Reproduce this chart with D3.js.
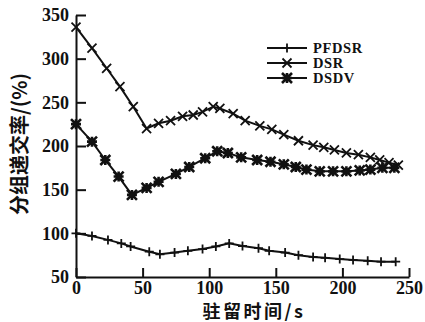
<!DOCTYPE html>
<html>
<head>
<meta charset="utf-8">
<title>分组递交率</title>
<script src="https://d3js.org/d3.v7.min.js"></script>
<style>
  body { margin: 0; background: #fff; }
  svg { display: block; }
  .tick text { font-family: "Liberation Serif", serif; font-weight: bold; font-size: 18px; fill: #111; }
  .tick line, .domain { stroke: #111; stroke-width: 2px; }
</style>
</head>
<body>
<svg width="425" height="322"></svg>
<script>
// data
var seriesNames = ["PFDSR", "DSR", "DSDV"];

var pfdsrX = [0, 12, 24, 34, 41, 55, 63, 74, 84, 95, 105, 115, 125, 137, 145, 157, 167, 178, 187, 198, 208, 219, 229, 240];
var pfdsrY = [100, 97, 92.5, 88.5, 85, 79, 76, 78, 80, 82, 85, 88.5, 85.5, 83, 80, 78, 75, 73, 72, 70.5, 69.5, 68.5, 67.5, 67.5];

var dsrX = [0, 12, 23, 33, 43, 53, 62, 71, 80, 88, 95, 103, 108, 118, 127, 138, 147, 156, 167, 178, 186, 194, 203, 212, 221, 228, 235, 242];
var dsrY = [336, 312, 289, 268, 245, 220, 226, 229, 234, 235.5, 239, 245, 243, 237, 229, 223, 219, 213, 206, 201, 198.5, 195.5, 192, 190, 187, 184, 181, 178];

var dsdvX = [0, 12, 22, 32, 42, 53, 62, 75, 85, 97, 106, 114, 124, 136, 146, 156, 165, 173, 183, 193, 203, 213, 221, 230, 239];
var dsdvY = [225, 205, 184, 165, 144, 152, 159, 168, 176, 186, 194, 192, 187, 184, 182, 179, 176, 173, 171, 171, 171, 172, 173, 175, 175];

var xTicks = [0, 50, 100, 150, 200, 250];
var yTicks = [50, 100, 150, 200, 250, 300, 350];

var xLabel = "驻留时间/s";
var yLabel = "分组递交率/(%)";

var svg = d3.select("svg");

var x = d3.scaleLinear().domain([0, 250]).range([76, 409]);
var y = d3.scaleLinear().domain([50, 350]).range([277, 15]);

//----- axes -----
svg.append("g")
  .attr("transform", "translate(0,277)")
  .call(d3.axisBottom(x).tickValues(xTicks).tickSizeInner(-9).tickSizeOuter(0).tickPadding(4));

svg.append("g")
  .attr("transform", "translate(76,0)")
  .call(d3.axisLeft(y).tickValues(yTicks).tickSizeInner(-10).tickSizeOuter(0).tickPadding(7));

//----- markers -----
function drawMarker(g, kind, cx, cy) {
  var r = kind == "star" ? 5 : 4.5;
  var p = "";
  if (kind == "plus" || kind == "star")
    p += "M" + (cx - r) + "," + cy + "H" + (cx + r) + "M" + cx + "," + (cy - r) + "V" + (cy + r);
  if (kind == "cross" || kind == "star")
    p += "M" + (cx - r) + "," + (cy - r) + "L" + (cx + r) + "," + (cy + r) +
         "M" + (cx - r) + "," + (cy + r) + "L" + (cx + r) + "," + (cy - r);
  g.append("path").attr("d", p)
    .attr("stroke", "#111").attr("stroke-width", kind == "star" ? 2.6 : 1.8).attr("fill", "none");
  if (kind == "star")
    g.append("circle").attr("cx", cx).attr("cy", cy).attr("r", 3).attr("fill", "#111");
}

var series = [
  { xs: pfdsrX, ys: pfdsrY, kind: "plus" },
  { xs: dsrX, ys: dsrY, kind: "cross" },
  { xs: dsdvX, ys: dsdvY, kind: "star" }
];

var line = d3.line().x(function(d) { return x(d[0]); }).y(function(d) { return y(d[1]); });

series.forEach(function(s) {
  var pts = s.xs.map(function(v, i) { return [v, s.ys[i]]; });
  svg.append("path").attr("d", line(pts))
    .attr("fill", "none").attr("stroke", "#111").attr("stroke-width", 2);
  var g = svg.append("g");
  pts.forEach(function(d) { drawMarker(g, s.kind, x(d[0]), y(d[1])); });
});

//----- legend -----
var legend = svg.append("g");
seriesNames.forEach(function(name, i) {
  var ly = 48 + i * 15;
  legend.append("line").attr("x1", 267).attr("x2", 307).attr("y1", ly).attr("y2", ly)
    .attr("stroke", "#111").attr("stroke-width", 2);
  drawMarker(legend, series[i].kind, 287, ly);
  legend.append("text").attr("x", 313).attr("y", ly + 5)
    .attr("font-family", "Liberation Serif, serif").attr("font-weight", "bold")
    .attr("font-size", "14.5px").attr("letter-spacing", "0.6px").attr("fill", "#111").text(name);
});

//----- axis titles -----
svg.append("text")
  .attr("x", 254).attr("y", 318)
  .attr("text-anchor", "middle")
  .attr("font-family", "Noto Sans CJK SC, sans-serif").attr("font-weight", "bold")
  .attr("font-size", "18px").attr("letter-spacing", "2.5px").attr("fill", "#111")
  .text(xLabel);

svg.append("text")
  .attr("transform", "translate(27,144) rotate(-90)")
  .attr("text-anchor", "middle")
  .attr("font-family", "Noto Sans CJK SC, sans-serif").attr("font-weight", "bold")
  .attr("font-size", "20px").attr("fill", "#111")
  .text(yLabel);
</script>
</body>
</html>
